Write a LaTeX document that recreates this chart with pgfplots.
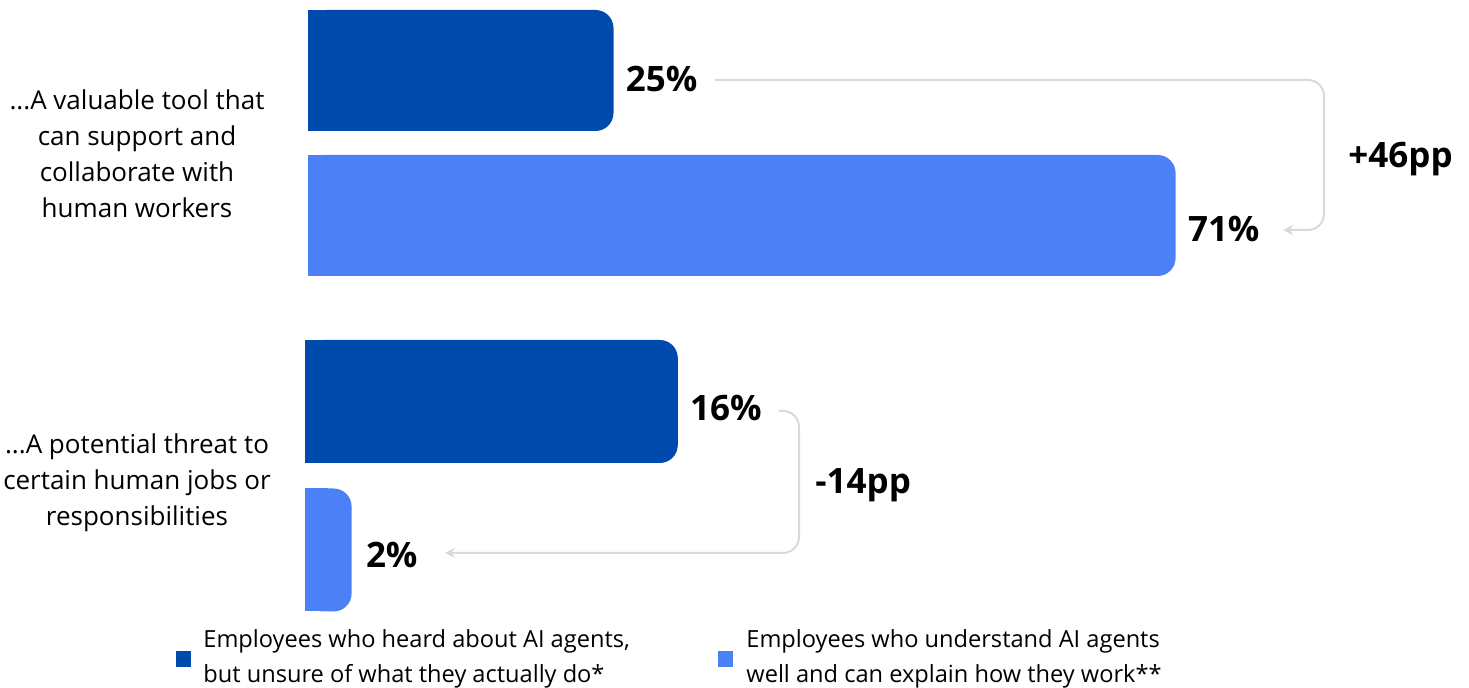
\documentclass[border=0pt]{standalone}
\usepackage{fontspec}
\setmainfont{Open Sans}
\usepackage{pgfplots}
\pgfplotsset{compat=1.18}
\usetikzlibrary{arrows.meta}
\definecolor{darkb}{RGB}{0,74,173}
\definecolor{lightb}{RGB}{76,128,246}
\definecolor{conn}{RGB}{217,217,217}
\newcommand{\valfont}{\bfseries\fontsize{17.5pt}{20pt}\selectfont}
\newcommand{\txtfont}{\fontsize{13pt}{18pt}\selectfont}
\begin{document}
\begin{tikzpicture}[x=0.5pt,y=-0.5pt]
\path[use as bounding box] (0,0) rectangle (1469,688);
% ---- top group ----
\begin{axis}[
  at={(154pt,-107.75pt)}, anchor=origin,
  x=6.11pt, y=72.5pt,
  xmin=0, xmax=75, ymin=-0.6, ymax=1.6,
  hide axis, clip=false,
  xbar, bar width=60.5pt, bar shift=0pt,
  /pgf/number format/assume math mode=true,
  every node near coord/.append style={font=\valfont, anchor=west, inner sep=0pt, text=black},
]
\addplot[fill=darkb, draw=none] coordinates {(2,1)};
\addplot[fill=lightb, draw=none] coordinates {(2,0)};
\addplot[fill=darkb, draw=none, rounded corners=9pt,
  nodes near coords={\pgfmathprintnumber{\pgfplotspointmeta}\%},
  every node near coord/.append style={xshift=6pt, yshift=-4.5pt}] coordinates {(25,1)};
\addplot[fill=lightb, draw=none, rounded corners=9pt,
  nodes near coords={\pgfmathprintnumber{\pgfplotspointmeta}\%},
  every node near coord/.append style={xshift=6pt, yshift=-6.5pt}] coordinates {(71,0)};
\end{axis}
% ---- bottom group ----
\begin{axis}[
  at={(152.5pt,-275pt)}, anchor=origin,
  x=11.65pt, y=74.25pt,
  xmin=0, xmax=40, ymin=-0.6, ymax=1.6,
  hide axis, clip=false,
  xbar, bar width=61.5pt, bar shift=0pt,
  /pgf/number format/assume math mode=true,
  every node near coord/.append style={font=\valfont, anchor=west, inner sep=0pt, text=black},
]
\addplot[fill=darkb, draw=none] coordinates {(1,1)};
\addplot[fill=lightb, draw=none] coordinates {(1,0)};
\addplot[fill=darkb, draw=none, rounded corners=9pt,
  nodes near coords={\pgfmathprintnumber{\pgfplotspointmeta}\%},
  every node near coord/.append style={xshift=6pt, yshift=-3.5pt}] coordinates {(16,1)};
\addplot[fill=lightb, draw=none, rounded corners=9pt,
  nodes near coords={\pgfmathprintnumber{\pgfplotspointmeta}\%},
  every node near coord/.append style={xshift=7pt, yshift=-2.5pt}] coordinates {(2,0)};
\end{axis}
% ---- connectors ----
\draw[conn, line width=1pt, rounded corners=8pt, -{Stealth[length=5pt,width=5pt]}]
  (715,80) -- (1324,80) -- (1324,230) -- (1283,230);
\draw[conn, line width=1pt, rounded corners=8pt, -{Stealth[length=5pt,width=5pt]}]
  (779,411) -- (799,411) -- (799,553) -- (445,553);
\node[anchor=base west, inner sep=0pt, font=\valfont] at (1348,168) {+46pp};
\node[anchor=base west, inner sep=0pt, font=\valfont] at (815,494) {-14pp};
% ---- category labels ----
\node[anchor=center, align=center, inner sep=0pt, font=\txtfont] at (137,154)
  {...A valuable tool that\\can support and\\collaborate with\\human workers};
\node[anchor=center, align=center, inner sep=0pt, font=\txtfont] at (137,483)
  {...A potential threat to\\certain human jobs or\\responsibilities};
% ---- legend ----
\fill[darkb] (176,651) rectangle (191,667);
\fill[lightb] (718,651) rectangle (733,667);
\node[anchor=west, align=left, inner sep=0pt, font=\fontsize{11.8pt}{17.5pt}\selectfont] at (203,659)
  {Employees who heard about AI agents,\\but unsure of what they actually do*};
\node[anchor=west, align=left, inner sep=0pt, font=\fontsize{11.8pt}{17.5pt}\selectfont] at (746,659)
  {Employees who understand AI agents\\well and can explain how they work**};
\end{tikzpicture}
\end{document}
